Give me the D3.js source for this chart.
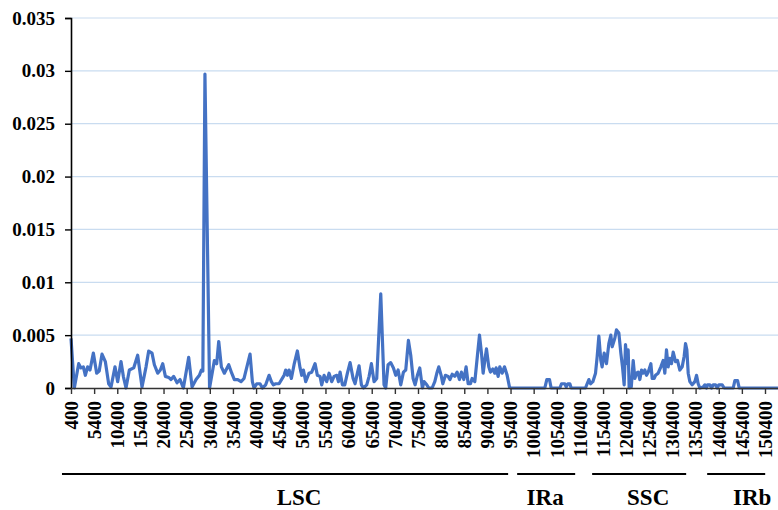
<!DOCTYPE html>
<html><head><meta charset="utf-8">
<script src="https://cdn.jsdelivr.net/npm/d3@7"></script>
<style>body{margin:0;background:#fff}svg{display:block}
svg text{font-family:"Liberation Serif","Times New Roman",serif !important;font-weight:bold}</style>
</head><body>
<svg id="c" width="778" height="510"></svg>
<script>
// Sliding-window positions (bp) and nucleotide diversity (Pi)
const positions = [400,1120,2060,2560,3070,3500,4000,4510,5230,5950,6500,7100,7820,8540,9050,9910,10490,11210,11710,12290,13010,13950,14810,15750,16620,17190,17910,18420,19140,19710,20220,20800,21520,22020,22600,23320,23970,24690,25840,26560,27430,28150,28580,28900,29350,30350,31390,31890,32330,32900,33550,34490,35140,35710,36440,37160,37800,39100,39600,39960,40540,41260,41760,42480,43210,43710,44140,44650,45370,46450,46810,47170,47530,48030,48610,49330,49910,50270,50630,51130,51850,52430,53150,53650,54230,54590,55100,55670,56180,56760,57260,57840,58200,58560,59060,59570,60140,60720,61370,61800,62300,62660,63170,63600,64320,64830,65330,65910,66480,67350,68060,68420,68930,69510,70090,70590,71100,71670,72250,72750,73330,73830,74340,74770,75270,75780,76350,76710,77300,77730,78450,79030,79530,79890,80400,80760,81330,81910,82300,82780,83350,83860,84360,84790,85300,85800,86240,86740,87100,87680,88250,88690,89120,89480,89840,90200,90700,91060,91570,92000,92290,92720,93080,93590,94090,94670,95170,95390,102810,103240,103820,104180,106060,106420,107140,107430,107790,108220,108510,111600,111960,112330,112690,113190,113770,114130,114490,114920,115200,115640,116140,116650,117080,117370,117940,118300,118810,119240,119600,119960,120250,120610,120830,121040,121500,121910,122270,122630,122990,123350,123710,124070,124430,124790,125150,125730,126020,126450,126740,127310,127890,128390,128750,129110,129470,129830,130190,130560,131060,131490,131990,132500,132930,133220,133510,133800,134160,134660,135240,135600,135960,136320,137040,137400,137760,137980,138480,138840,139200,139710,140070,140430,141150,141580,143530,143890,144470,144830,153200];
const piValues = [0.0047,0,0.0023,0.0019,0.0020,0.0012,0.0020,0.0017,0.0033,0.0014,0.0016,0.0032,0.0025,0.0004,0.0001,0.0020,0.0006,0.0025,0.0011,0,0.0017,0.0019,0.0031,0.0001,0.0020,0.0035,0.0033,0.0022,0.0014,0.0017,0.0023,0.0011,0.0010,0.0008,0.0011,0.0005,0.0008,0,0.0029,0.0001,0.0008,0.0012,0.0017,0.0016,0.0297,0,0.0026,0.0023,0.0044,0.0020,0.0014,0.0022,0.0014,0.0008,0.0008,0.0006,0.0009,0.0032,0.0006,0,0.0004,0.0004,0,0.0003,0.0012,0.0006,0.0003,0.0004,0.0004,0.0012,0.0017,0.0012,0.0017,0.0009,0.0022,0.0035,0.0019,0.0012,0.0017,0.0006,0.0014,0.0015,0.0023,0.0012,0.0011,0.0003,0.0012,0.0006,0.0014,0.0006,0.0011,0.0012,0.0006,0.0015,0.0003,0.0003,0.0014,0.0024,0.0009,0.0004,0.0014,0.0021,0.0003,0,0.0003,0.0011,0.0023,0.0006,0.0009,0.0089,0.0003,0,0.0022,0.0024,0.0019,0.0012,0.0017,0.0003,0.0015,0.0017,0.0045,0.0031,0.0009,0.0003,0.0012,0.0019,0,0.0006,0.0003,0,0,0.0006,0.0015,0.0020,0.0012,0.0004,0.0012,0.0011,0.0008,0.0013,0.0011,0.0015,0.0008,0.0015,0.0008,0.0020,0.0004,0.0004,0.0009,0.0006,0.0031,0.0050,0.0033,0.0014,0.0026,0.0037,0.0020,0.0015,0.0018,0.0014,0.0019,0.0011,0.0020,0.0014,0.0020,0.0012,0.0001,0,0,0.0008,0.0008,0,0,0.0004,0.0004,0.0001,0.0004,0.0004,0,0,0.0004,0.0008,0.0004,0.0006,0.0014,0.0030,0.0049,0.0026,0.0020,0.0033,0.0023,0.0042,0.0050,0.0039,0.0047,0.0055,0.0052,0.0033,0.0020,0.0003,0.0041,0.0023,0.0036,0,0.0001,0.0026,0.0009,0.0014,0.0015,0.0008,0.0017,0.0014,0.0017,0.0012,0.0015,0.0023,0.0009,0.0009,0.0012,0.0014,0.0020,0.0026,0.0014,0.0036,0.0020,0.0028,0.0023,0.0034,0.0025,0.0026,0.0017,0.0020,0.0030,0.0042,0.0036,0.0014,0.0006,0.0003,0.0006,0.0012,0.0004,0,0.0001,0.0003,0,0.0003,0.0003,0,0.0003,0.0003,0,0.0003,0.0003,0,0,0.0007,0.0007,0,0];

const xTickLabels = ["400","5400","10400","15400","20400","25400","30400","35400","40400","45400","50400","55400","60400","65400","70400","75400","80400","85400","90400","95400","100400","105400","110400","115400","120400","125400","130400","135400","140400","145400","150400"];
const yTicks = [0,0.005,0.01,0.015,0.02,0.025,0.03,0.035];
const yTickLabels = ["0","0.005","0.01","0.015","0.02","0.025","0.03","0.035"];

const regionNames = ["LSC","IRa","SSC","IRb"];
const regionStart = [-1550,96830,113040,137900];
const regionEnd = [94880,109370,133360,150440];
const regionLabelAt = [49700,102880,125150,147630];

const svg = d3.select("#c");
const x = d3.scaleLinear().domain([400,153210]).range([71,778]);
const y = d3.scaleLinear().domain([0,0.035]).range([388,18]);

// gridlines
svg.append("g").selectAll("line").data(yTicks.slice(1)).join("line")
  .attr("x1",71).attr("x2",778).attr("y1",d=>y(d)).attr("y2",d=>y(d))
  .attr("stroke","#c9dcf0").attr("stroke-width",1.2);

// data line
const data = positions.map((p,i)=>({p, v: piValues[i]}));
svg.append("path").datum(data)
  .attr("fill","none").attr("stroke","#4472c4").attr("stroke-width",3.2)
  .attr("stroke-linejoin","round")
  .attr("d", d3.line().x(d=>x(d.p)).y(d=>y(d.v)));

// y axis
const yAxis = svg.append("g").attr("transform","translate(71,0)")
  .call(d3.axisLeft(y).tickValues(yTicks).tickFormat((d,i)=>yTickLabels[i]).tickSize(6).tickPadding(10));
yAxis.attr("font-family",null);
yAxis.select(".domain").attr("stroke","#000").attr("stroke-width",1.6);
yAxis.selectAll(".tick line").attr("stroke","#000").attr("stroke-width",1.4);
yAxis.selectAll("text").attr("font-size",19).attr("fill","#000");

// x axis
const xTickVals = xTickLabels.map(Number);
const xAxis = svg.append("g").attr("transform","translate(0,388)")
  .call(d3.axisBottom(x).tickValues(xTickVals).tickFormat((d,i)=>xTickLabels[i]).tickSize(6).tickSizeOuter(0));
xAxis.attr("font-family",null);
xAxis.select(".domain").attr("stroke","#333").attr("stroke-width",1.6);
xAxis.selectAll(".tick line").attr("stroke","#333").attr("stroke-width",1.4);
xAxis.selectAll("text")
  .attr("font-size",19).attr("fill","#000")
  .attr("transform","rotate(-90)").attr("text-anchor","end")
  .attr("x",-13).attr("y",0).attr("dy","0.33em");

// region lines and labels
const rg = svg.append("g");
regionNames.forEach((n,i)=>{
  rg.append("line").attr("x1",x(regionStart[i])).attr("x2",x(regionEnd[i]))
    .attr("y1",474).attr("y2",474).attr("stroke","#000").attr("stroke-width",2);
  rg.append("text").attr("x",x(regionLabelAt[i])).attr("y",505)
    .attr("text-anchor","middle").attr("font-size",23).attr("fill","#000").text(n);
});
</script>
</body></html>
